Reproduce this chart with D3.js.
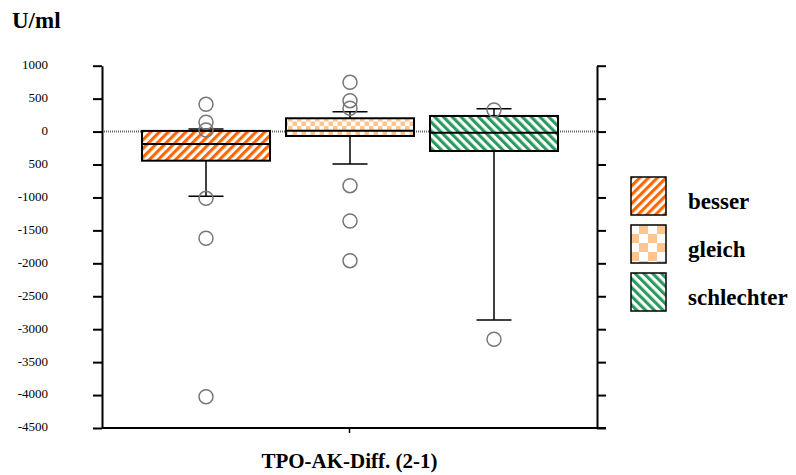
<!DOCTYPE html>
<html><head><meta charset="utf-8">
<script src="https://cdn.jsdelivr.net/npm/d3@7/dist/d3.min.js"></script>
<style>body{margin:0;background:#fff}svg{display:block}</style>
</head><body><svg id="c" width="796" height="475"></svg>
<script>
// ---- data ----
const categories = ["besser", "gleich", "schlechter"];
const q1 = [-442, -67, -295];
const median = [-188, 14, -17];
const q3 = [10, 202, 237];
const whiskerLow = [-982, -492, -2860];
const whiskerHigh = [40, 302, 348];
const outliers = [
  [414, 141, 24, -1013, -1620, -4025],
  [748, 469, 354, -821, -1357, -1960],
  [328, -3153]
];
const tickValues = [1000, 500, 0, -500, -1000, -1500, -2000, -2500, -3000, -3500, -4000, -4500];
const tickLabels = ["1000", "500", "0", "500", "-1000", "-1500", "-2000", "-2500", "-3000", "-3500", "-4000", "-4500"];
const xLabel = "TPO-AK-Diff. (2-1)";
const yTitle = "U/ml";

// ---- layout ----
const svg = d3.select("#c");
const L = 102, R = 597, T = 65.7, B = 428;
const y = d3.scaleLinear().domain([-4500, 1000]).range([B, T]);
const x = d3.scaleBand().domain(categories).range([134, 566]).paddingInner(0.111).paddingOuter(0.0555);
const serif = "'Liberation Serif','Times New Roman',serif";

// ---- patterns ----
const defs = svg.append("defs");
function stripes(id, color, angle, size) {
  const p = defs.append("pattern").attr("id", id).attr("patternUnits", "userSpaceOnUse")
    .attr("width", size).attr("height", size).attr("patternTransform", `rotate(${angle})`);
  p.append("rect").attr("width", size).attr("height", size).attr("fill", "#fff");
  p.append("rect").attr("width", size / 2).attr("height", size).attr("fill", color);
}
function checker(id, color, cell) {
  const p = defs.append("pattern").attr("id", id).attr("patternUnits", "userSpaceOnUse")
    .attr("width", cell * 2).attr("height", cell * 2);
  p.append("rect").attr("width", cell * 2).attr("height", cell * 2).attr("fill", "#fff");
  p.append("rect").attr("width", cell).attr("height", cell).attr("fill", color);
  p.append("rect").attr("x", cell).attr("y", cell).attr("width", cell).attr("height", cell).attr("fill", color);
}
stripes("p0", "#ff6600", 45, 6.2);
checker("p1", "#ffc58f", 4.5);
stripes("p2", "#2a9960", -45, 6.2);
checker("p1L", "#ffc58f", 9);
const fills = ["url(#p0)", "url(#p1)", "url(#p2)"];
const legendFills = ["url(#p0)", "url(#p1L)", "url(#p2)"];

// ---- zero reference line ----
svg.append("line").attr("x1", L).attr("x2", R).attr("y1", y(0)).attr("y2", y(0))
  .attr("stroke", "#666").attr("stroke-width", 2).attr("stroke-dasharray", "1,1");

// ---- axes ----
const leftAxis = d3.axisLeft(y).tickValues(tickValues).tickFormat((d, i) => tickLabels[i]).tickSize(9).tickSizeOuter(0);
const gl = svg.append("g").attr("transform", `translate(${L},0)`).call(leftAxis);
gl.select(".domain").attr("stroke", "#000").attr("stroke-width", 2);
gl.selectAll(".tick line").attr("stroke", "#000").attr("stroke-width", 2);
gl.selectAll(".tick text").attr("x", -54).attr("text-anchor", "end")
  .attr("dy", "0.3em").attr("transform", "translate(0,-1)")
  .attr("font-family", serif).attr("font-size", 13).attr("fill", "#000");

const rightAxis = d3.axisRight(y).tickValues(tickValues).tickFormat("").tickSize(9).tickSizeOuter(0);
const gr = svg.append("g").attr("transform", `translate(${R},0)`).call(rightAxis);
gr.select(".domain").attr("stroke", "#000").attr("stroke-width", 2);
gr.selectAll(".tick line").attr("stroke", "#000").attr("stroke-width", 2);

// bottom line
svg.append("line").attr("x1", L).attr("x2", R + 9).attr("y1", B).attr("y2", B)
  .attr("stroke", "#000").attr("stroke-width", 2);
svg.append("line").attr("x1", (L + R) / 2).attr("x2", (L + R) / 2).attr("y1", B).attr("y2", B + 5)
  .attr("stroke", "#000").attr("stroke-width", 1.5);

// ---- boxes ----
const capW = 35;
categories.forEach((c, i) => {
  const g = svg.append("g");
  const cx = x(c) + x.bandwidth() / 2;
  g.append("line").attr("x1", cx).attr("x2", cx).attr("y1", y(q3[i])).attr("y2", y(whiskerHigh[i]))
    .attr("stroke", "#000").attr("stroke-width", 1.5);
  g.append("line").attr("x1", cx).attr("x2", cx).attr("y1", y(q1[i])).attr("y2", y(whiskerLow[i]))
    .attr("stroke", "#000").attr("stroke-width", 1.5);
  [whiskerHigh[i], whiskerLow[i]].forEach(v => {
    g.append("line").attr("x1", cx - capW / 2).attr("x2", cx + capW / 2).attr("y1", y(v)).attr("y2", y(v))
      .attr("stroke", "#000").attr("stroke-width", 1.5);
  });
  g.append("rect").attr("x", x(c)).attr("width", x.bandwidth())
    .attr("y", y(q3[i])).attr("height", y(q1[i]) - y(q3[i]))
    .attr("fill", fills[i]).attr("stroke", "#000").attr("stroke-width", 2);
  g.append("line").attr("x1", x(c)).attr("x2", x(c) + x.bandwidth()).attr("y1", y(median[i])).attr("y2", y(median[i]))
    .attr("stroke", "#000").attr("stroke-width", 2);
  g.selectAll("circle").data(outliers[i]).join("circle")
    .attr("cx", cx).attr("cy", d => y(d)).attr("r", 7)
    .attr("fill", "none").attr("stroke", "#777").attr("stroke-width", 1.5);
});

// ---- titles ----
svg.append("text").attr("x", 12).attr("y", 28).text(yTitle)
  .attr("font-family", serif).attr("font-weight", "bold").attr("font-size", 23);
svg.append("text").attr("x", (L + R) / 2).attr("y", 468).attr("text-anchor", "middle").text(xLabel)
  .attr("font-family", serif).attr("font-weight", "bold").attr("font-size", 21);

// ---- legend ----
const leg = svg.append("g");
categories.forEach((c, i) => {
  const top = 177 + i * 48;
  leg.append("rect").attr("x", 631).attr("y", top).attr("width", 35).attr("height", 38)
    .attr("fill", legendFills[i]).attr("stroke", "#000").attr("stroke-width", 1.5);
  leg.append("text").attr("x", 688).attr("y", top + 32).text(c)
    .attr("font-family", serif).attr("font-weight", "bold").attr("font-size", 23);
});
</script></body></html>
